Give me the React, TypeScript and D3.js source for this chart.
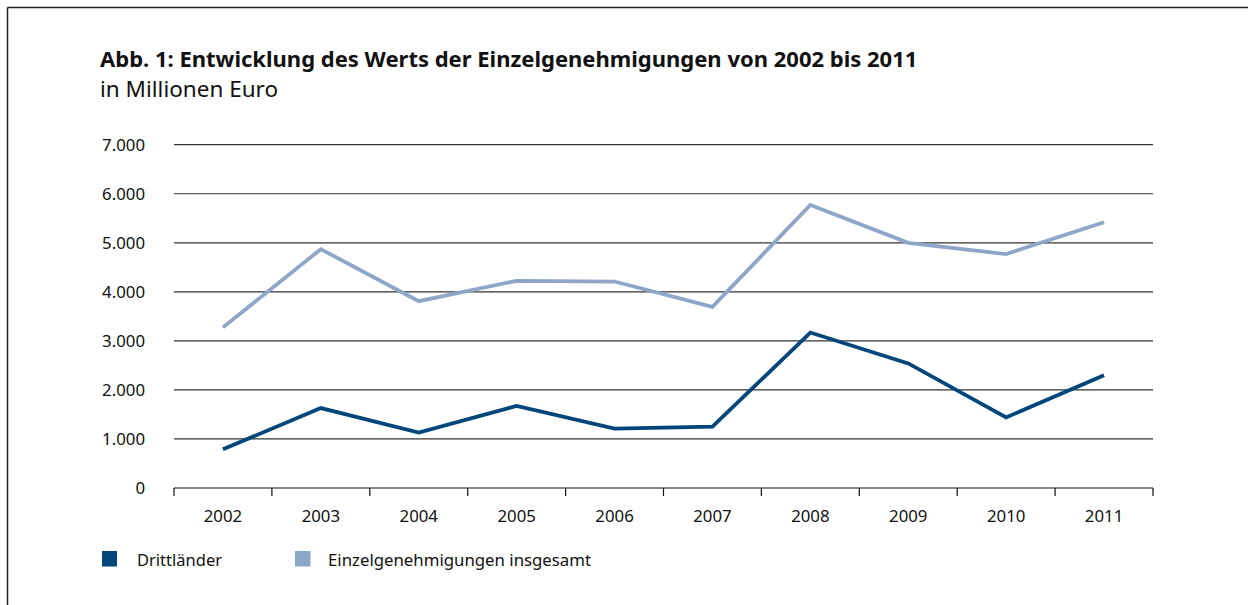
import React from "react";
import * as d3 from "d3";

const years = ["2002", "2003", "2004", "2005", "2006", "2007", "2008", "2009", "2010", "2011"];
const drittlaender = [790, 1630, 1130, 1675, 1210, 1250, 3170, 2540, 1440, 2300];
const insgesamt = [3275, 4870, 3810, 4225, 4210, 3695, 5770, 5000, 4770, 5420];
const yTicks = [0, 1000, 2000, 3000, 4000, 5000, 6000, 7000];
const seriesNames = ["Drittländer", "Einzelgenehmigungen insgesamt"];
const seriesColors = ["#00467a", "#8ea6c8"];

const W = 1248;
const H = 605;
const FONT = "'Noto Sans', 'Open Sans', sans-serif";

export default function App() {
  const x = d3.scaleBand<string>().domain(years).range([174, 1153]).padding(0);
  const y = d3.scaleLinear().domain([0, 7000]).range([488, 144.7]);
  const fmt = (v: number) => d3.format(",")(v).replace(/,/g, ".");
  const line = d3
    .line<number>()
    .x((_, i) => (x(years[i]) as number) + x.bandwidth() / 2)
    .y((d) => y(d));
  const series = [drittlaender, insgesamt];
  const tickXs = [...years.map((yr) => x(yr) as number), 1153];

  return (
    <svg
      width={W}
      height={H}
      style={{ position: "absolute", left: 0, top: 0, background: "#fff" }}
      fontFamily={FONT}
    >
      <rect x={0} y={0} width={W} height={H} fill="#fff" />
      <line x1={7.5} y1={7.5} x2={W} y2={7.5} stroke="#222" strokeWidth={1.5} />
      <line x1={7.5} y1={7.5} x2={7.5} y2={H} stroke="#222" strokeWidth={1.5} />

      <text x={100} y={66.5} fontSize={22} fontWeight="bold" fill="#111">
        Abb. 1: Entwicklung des Werts der Einzelgenehmigungen von 2002 bis 2011
      </text>
      <text x={100} y={96.5} fontSize={22.5} fill="#111">
        in Millionen Euro
      </text>

      {yTicks.map((t) => (
        <g key={t}>
          {t > 0 && (
            <line x1={174} x2={1153} y1={y(t)} y2={y(t)} stroke="#333" strokeWidth={1.2} />
          )}
          <text x={145} y={y(t)} dy="0.35em" textAnchor="end" fontSize={16.8} fill="#111">
            {fmt(t)}
          </text>
        </g>
      ))}

      <line x1={174} x2={1153} y1={y(0)} y2={y(0)} stroke="#111" strokeWidth={1.2} />
      {tickXs.map((tx, i) => (
        <line key={i} x1={tx} x2={tx} y1={y(0)} y2={y(0) + 8} stroke="#111" strokeWidth={1.2} />
      ))}
      {years.map((yr) => (
        <text
          key={yr}
          x={(x(yr) as number) + x.bandwidth() / 2}
          y={522}
          textAnchor="middle"
          fontSize={16.8}
          fill="#111"
        >
          {yr}
        </text>
      ))}

      {series.map((s, i) => (
        <path
          key={i}
          d={line(s) as string}
          fill="none"
          stroke={seriesColors[i]}
          strokeWidth={3.8}
          strokeLinejoin="miter"
        />
      ))}

      <g>
        <rect x={102} y={551} width={15} height={15.5} fill={seriesColors[0]} />
        <text x={137} y={566} fontSize={16.5} fill="#111">
          {seriesNames[0]}
        </text>
        <rect x={295} y={551} width={15.5} height={15.5} fill={seriesColors[1]} />
        <text x={328} y={566} fontSize={16.8} fill="#111">
          {seriesNames[1]}
        </text>
      </g>
    </svg>
  );
}
